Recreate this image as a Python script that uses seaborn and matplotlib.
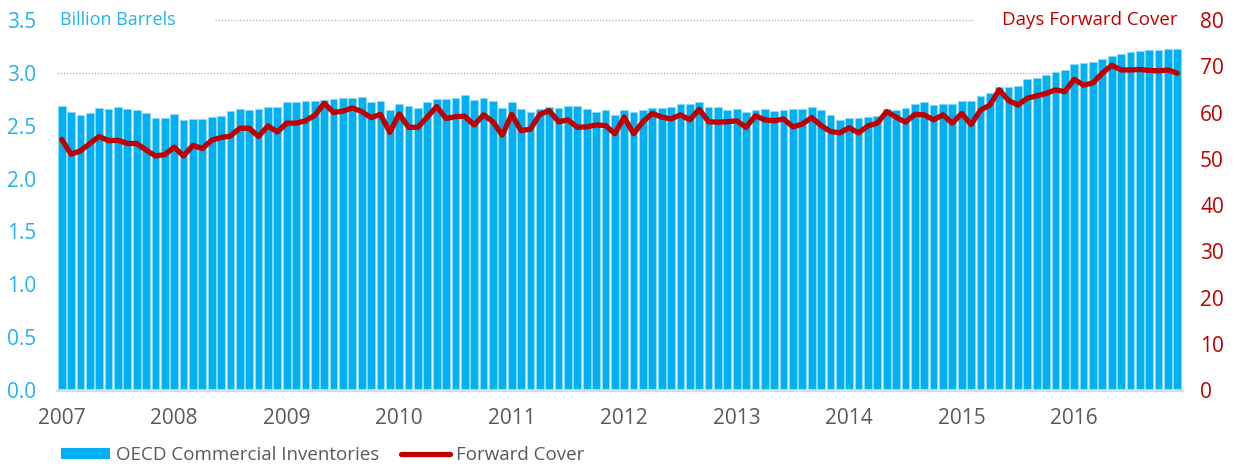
import numpy as np
import pandas as pd
import matplotlib
matplotlib.use("Agg")
import matplotlib.pyplot as plt
import seaborn as sns
from matplotlib.patches import Patch
from matplotlib.lines import Line2D

# Monthly OECD commercial inventories (billion barrels), Jan 2007 - Dec 2016
inventories = [
    2.69, 2.63, 2.60, 2.62, 2.67, 2.66, 2.68, 2.66, 2.65, 2.62, 2.57, 2.57,  # 2007
    2.61, 2.55, 2.56, 2.56, 2.58, 2.59, 2.64, 2.66, 2.65, 2.66, 2.68, 2.68,  # 2008
    2.72, 2.72, 2.73, 2.73, 2.74, 2.75, 2.76, 2.76, 2.77, 2.72, 2.73, 2.65,  # 2009
    2.71, 2.69, 2.67, 2.72, 2.75, 2.75, 2.76, 2.79, 2.74, 2.76, 2.73, 2.67,  # 2010
    2.72, 2.66, 2.63, 2.66, 2.68, 2.67, 2.69, 2.69, 2.66, 2.63, 2.65, 2.60,  # 2011
    2.65, 2.63, 2.65, 2.67, 2.67, 2.68, 2.71, 2.71, 2.72, 2.68, 2.68, 2.65,  # 2012
    2.66, 2.63, 2.65, 2.66, 2.64, 2.65, 2.66, 2.66, 2.68, 2.65, 2.60, 2.55,  # 2013
    2.57, 2.57, 2.58, 2.59, 2.66, 2.65, 2.67, 2.71, 2.72, 2.70, 2.71, 2.71,  # 2014
    2.73, 2.73, 2.78, 2.81, 2.87, 2.87, 2.88, 2.94, 2.95, 2.98, 3.01, 3.03,  # 2015
    3.08, 3.09, 3.10, 3.13, 3.16, 3.18, 3.20, 3.21, 3.22, 3.22, 3.23, 3.23,  # 2016
]

# Days of forward demand cover
forward_cover = [
    54.2, 51.0, 51.7, 53.3, 54.8, 53.9, 54.0, 53.3, 53.3, 51.9, 50.6, 50.9,
    52.5, 50.6, 52.9, 52.2, 54.0, 54.6, 54.9, 56.6, 56.6, 54.8, 57.1, 55.8,
    57.7, 57.7, 58.2, 59.4, 62.0, 60.0, 60.3, 61.0, 60.2, 58.9, 59.6, 55.7,
    59.7, 56.8, 56.8, 59.0, 61.3, 58.7, 59.1, 59.2, 57.3, 59.5, 58.0, 55.1,
    59.6, 56.1, 56.4, 59.6, 60.4, 58.0, 58.4, 56.8, 56.9, 57.3, 57.2, 55.4,
    59.0, 55.4, 58.0, 59.8, 59.0, 58.6, 59.5, 58.4, 60.7, 58.0, 57.9, 58.0,
    58.2, 56.8, 59.3, 58.4, 58.2, 58.6, 56.9, 57.5, 58.9, 57.2, 55.9, 55.6,
    56.7, 55.6, 57.1, 57.7, 60.2, 59.0, 57.9, 59.6, 59.5, 58.4, 59.5, 57.7,
    59.8, 57.4, 60.5, 61.6, 64.9, 62.6, 61.6, 63.1, 63.6, 64.1, 64.9, 64.5,
    67.2, 65.9, 66.4, 68.5, 70.2, 69.2, 69.2, 69.3, 69.1, 69.0, 69.2, 68.5,
]

years = ["2007", "2008", "2009", "2010", "2011", "2012", "2013", "2014", "2015", "2016"]
left_ticks = [0.0, 0.5, 1.0, 1.5, 2.0, 2.5, 3.0, 3.5]
right_ticks = [0, 10, 20, 30, 40, 50, 60, 70, 80]

BLUE = "#00b0f0"
RED = "#c00000"
TICK_BLUE = "#22b4ec"
GREY = "#595959"

sns.set_theme(style="white")
plt.rcParams["font.family"] = ["Open Sans", "DejaVu Sans"]

df = pd.DataFrame({
    "month": np.arange(len(inventories)),
    "inventories": inventories,
    "cover": forward_cover,
})

fig = plt.figure(figsize=(12.34, 4.65), dpi=100)
ax = fig.add_axes([57 / 1234, 1 - 390 / 465, 1125 / 1234, 370 / 465])

# gridlines behind bars
ax.axhline(3.0, color="#b0b0b0", lw=0.9, ls=(0, (1, 1.5)), zorder=0)
ax.axhline(3.5, xmin=0.14, xmax=0.814, color="#b0b0b0", lw=0.9, ls=(0, (1, 1.5)),
           zorder=0, clip_on=False)

sns.barplot(data=df, x="month", y="inventories", color=BLUE, saturation=1,
            width=0.82, edgecolor="#8fdcf7", linewidth=0.4, ax=ax, zorder=2)
ax.set_xlim(-0.5, len(inventories) - 0.5)
ax.set_ylim(0, 3.5)
ax.set_yticks(left_ticks)
ax.set_yticklabels([f"{t:.1f}" for t in left_ticks], color=TICK_BLUE, fontsize=15)
ax.set_xticks(np.arange(0, len(inventories), 12))
ax.set_xticklabels(years, color=GREY, fontsize=15)
ax.tick_params(axis="y", length=0, pad=15)
ax.tick_params(axis="x", length=0, pad=13)
ax.set_xlabel("")
ax.set_ylabel("")
for side in ["top", "left", "right"]:
    ax.spines[side].set_visible(False)
ax.spines["bottom"].set_color("#d9d9d9")
ax.spines["bottom"].set_linewidth(2)

ax2 = ax.twinx()
sns.lineplot(data=df, x="month", y="cover", color=RED, linewidth=3.8, ax=ax2,
             solid_joinstyle="round", solid_capstyle="round")
ax2.set_ylim(0, 80)
ax2.set_yticks(right_ticks)
ax2.set_yticklabels([str(t) for t in right_ticks], color=RED, fontsize=15)
ax2.tick_params(axis="y", length=0, pad=13)
ax2.set_ylabel("")
ax2.set_xlabel("")
for side in ax2.spines:
    ax2.spines[side].set_visible(False)

ax.text(0.003, 3.5, "Billion Barrels", color=TICK_BLUE, fontsize=13,
        ha="left", va="center", transform=ax.get_yaxis_transform())
ax.text(0.9965, 3.5, "Days Forward Cover", color=RED, fontsize=13.5,
        ha="right", va="center", transform=ax.get_yaxis_transform())

handles = [Patch(facecolor=BLUE, edgecolor="none"),
           Line2D([0], [0], color=RED, lw=3.8)]
fig.legend(handles, ["OECD Commercial Inventories", "Forward Cover"],
           loc="center left", bbox_to_anchor=(61 / 1234, 1 - 455 / 465),
           ncol=2, frameon=False, fontsize=13.5, labelcolor=GREY,
           handlelength=2.6, handleheight=0.55, handletextpad=0.35,
           columnspacing=1.15, borderpad=0, borderaxespad=0)

fig.savefig("out.png", dpi=100)
